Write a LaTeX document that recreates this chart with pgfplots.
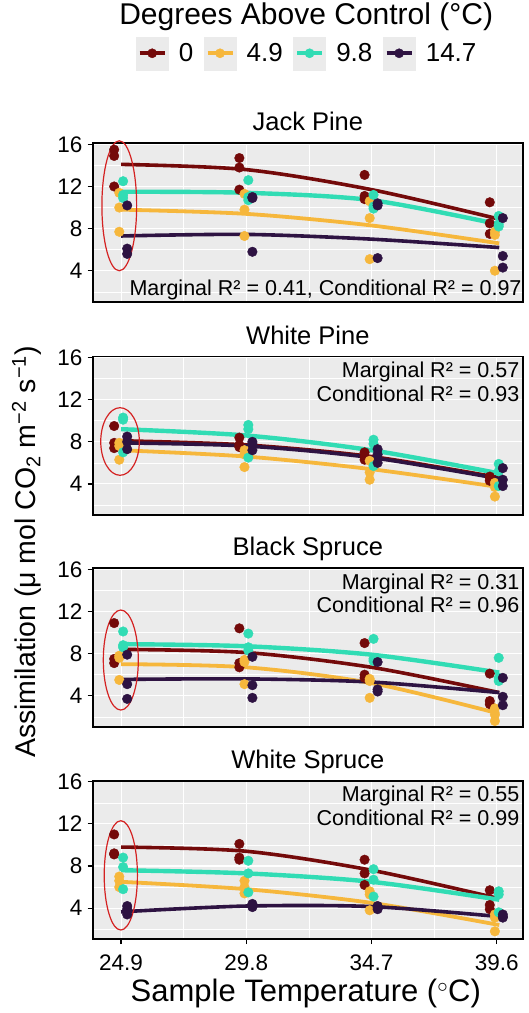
\documentclass[border=0pt]{standalone}
\usepackage{pgfplots}
\pgfplotsset{compat=1.18}
\usepackage{fontspec}
\setmainfont{Liberation Sans}
\definecolor{cr}{HTML}{740A0A}
\definecolor{cy}{HTML}{F6B73C}
\definecolor{ct}{HTML}{31DCB4}
\definecolor{cp}{HTML}{2E1342}
\definecolor{bg}{HTML}{EBEBEB}
\definecolor{ell}{HTML}{D42222}
\pgfplotsset{
  panel/.style={
    at={(92.7pt,#1)}, anchor=north west, scale only axis,
    width=430.3pt, height=158.5pt,
    xmin=23.79, xmax=40.63, ymin=1.05, ymax=16.1,
    xtick={24.9,29.8,34.7,39.6}, minor xtick={27.35,32.25,37.15},
    ytick={4,8,12,16}, yticklabels={4,8,12,16}, minor ytick={2,6,10,14},
    grid=both,
    major grid style={white, line width=1.1pt},
    minor grid style={white, line width=0.55pt},
    axis background/.style={fill=bg},
    axis line style={black, line width=1.8pt},
    tick align=outside, major tick length=5pt, minor tick length=0pt,
    xtick pos=bottom, ytick pos=left,
    tick style={black, line width=1.2pt},
    yticklabel style={font=\fontsize{22.5}{26}\selectfont, black, inner sep=0pt, xshift=-5pt},
    xticklabel style={font=\fontsize{22.5}{26}\selectfont, black, inner sep=0pt, yshift=-10.5pt},
    /pgf/number format/assume math mode=true,
    clip=false,
  },
  notx/.style={xticklabels={}, xtick style={draw=none}},
  pr/.style={only marks, mark=*, mark size=4.8pt, cr, mark options={draw=none, fill=cr}},
  py/.style={only marks, mark=*, mark size=4.8pt, cy, mark options={draw=none, fill=cy}},
  pt/.style={only marks, mark=*, mark size=4.8pt, ct, mark options={draw=none, fill=ct}},
  pp/.style={only marks, mark=*, mark size=4.8pt, cp, mark options={draw=none, fill=cp}},
  lr/.style={cr, line width=3.6pt, smooth, no marks},
  ly/.style={cy, line width=3.8pt, smooth, no marks},
  lt/.style={ct, line width=4.4pt, smooth, no marks},
  lp/.style={cp, line width=3.6pt, smooth, no marks},
}
\begin{document}
\begin{tikzpicture}
\useasboundingbox (0pt,0pt) rectangle (528pt,-1013pt);
% ---------- Jack Pine ----------
\begin{axis}[panel={-143.3pt}, notx,
  legend columns=4,
  legend style={at={(0.1006,1.568)}, anchor=west, draw=none, fill=none,
    inner sep=0pt, outer sep=0pt, font=\fontsize{26}{30}\selectfont,
    nodes={inner sep=0pt, anchor=center},
    /tikz/every odd column/.append style={column sep=10.5pt},
    /tikz/every even column/.append style={column sep=10.5pt}},
  legend image code/.code={
    \fill[bg] (0pt,-16.5pt) rectangle (32pt,16.5pt);
    \draw[line width=3.6pt] (3.5pt,0pt) -- (28.5pt,0pt);
    \fill (16pt,0pt) circle (4.6pt);
  }]
\addlegendimage{color=cr}\addlegendentry{0}
\addlegendimage{color=cy}\addlegendentry{4.9}
\addlegendimage{color=ct}\addlegendentry{9.8}
\addlegendimage{color=cp}\addlegendentry{14.7}
\addplot[lr] coordinates {(24.9,14.1) (29.8,13.6) (34.7,11.7) (39.7,8.9)};
\addplot[ly] coordinates {(24.9,9.8) (29.8,9.4) (34.7,8.3) (39.7,6.6)};
\addplot[lt] coordinates {(24.9,11.5) (29.8,11.4) (34.7,10.7) (39.7,8.4)};
\addplot[lp] coordinates {(24.9,7.3) (29.8,7.45) (34.7,7.0) (39.7,6.2)};
\addplot[pr] coordinates {(24.63,15.5) (24.63,14.9) (24.63,12.0) (29.53,14.7) (29.53,13.8) (29.53,11.7) (34.43,13.1) (34.43,11.1) (34.43,10.8) (39.33,10.5) (39.33,8.5) (39.33,7.5)};
\addplot[py] coordinates {(24.83,11.4) (24.83,10.0) (24.83,7.7) (29.73,11.3) (29.73,9.8) (29.73,7.3) (34.63,10.6) (34.63,9.0) (34.63,5.1) (39.53,7.7) (39.53,7.4) (39.53,4.0)};
\addplot[pt] coordinates {(24.98,12.5) (24.98,11.2) (24.98,10.9) (29.88,12.6) (29.88,11.0) (29.88,10.7) (34.78,11.2) (34.78,10.1) (34.78,9.9) (39.68,9.2) (39.68,8.4) (39.68,8.2)};
\addplot[pp] coordinates {(25.14,10.2) (25.14,6.1) (25.14,5.6) (30.04,11.0) (30.04,10.9) (30.04,5.8) (34.94,10.4) (34.94,10.2) (34.94,5.2) (39.84,9.0) (39.84,5.4) (39.84,4.3)};
\draw[ell, line width=1.2pt] (axis cs:24.83,10.17) ellipse [x radius=0.68, y radius=6.17];
\end{axis}
% ---------- White Pine ----------
\begin{axis}[panel={-356.5pt}, notx]
\addplot[lr] coordinates {(24.9,8.1) (29.8,7.7) (34.7,6.6) (39.7,4.6)};
\addplot[ly] coordinates {(24.9,7.2) (29.8,6.6) (34.7,5.4) (39.7,3.7)};
\addplot[lt] coordinates {(24.9,9.2) (29.8,8.6) (34.7,7.2) (39.7,5.0)};
\addplot[lp] coordinates {(24.9,7.9) (29.8,7.6) (34.7,6.5) (39.7,4.5)};
\addplot[pr] coordinates {(24.63,9.5) (24.63,7.9) (24.63,7.4) (29.53,8.4) (29.53,7.7) (29.53,7.5) (34.43,7.0) (34.43,6.6) (34.43,6.3) (39.33,4.7) (39.33,4.6) (39.33,4.3)};
\addplot[py] coordinates {(24.83,7.9) (24.83,7.6) (24.83,6.3) (29.73,7.2) (29.73,6.8) (29.73,5.6) (34.63,6.2) (34.63,5.1) (34.63,4.4) (39.53,4.1) (39.53,3.7) (39.53,2.8)};
\addplot[pt] coordinates {(24.98,10.3) (24.98,10.1) (24.98,7.0) (29.88,9.6) (29.88,9.2) (29.88,6.5) (34.78,8.2) (34.78,7.8) (34.78,5.7) (39.68,5.9) (39.68,5.2) (39.68,3.8)};
\addplot[pp] coordinates {(25.14,8.5) (25.14,8.0) (25.14,7.3) (30.04,8.0) (30.04,7.8) (30.04,7.2) (34.94,7.3) (34.94,6.8) (34.94,6.0) (39.84,5.5) (39.84,4.4) (39.84,3.8)};
\draw[ell, line width=1.2pt] (axis cs:24.86,8.03) ellipse [x radius=0.755, y radius=3.21];
\end{axis}
% ---------- Black Spruce ----------
\begin{axis}[panel={-568.3pt}, notx]
\addplot[lr] coordinates {(24.9,8.4) (29.8,8.1) (34.7,6.7) (39.7,4.3)};
\addplot[ly] coordinates {(24.9,7.0) (29.8,6.7) (34.7,5.2) (39.7,2.3)};
\addplot[lt] coordinates {(24.9,8.9) (29.8,8.7) (34.7,7.9) (39.7,6.2)};
\addplot[lp] coordinates {(24.9,5.55) (29.8,5.6) (34.7,5.3) (39.7,4.3)};
\addplot[pr] coordinates {(24.63,10.9) (24.63,7.5) (24.63,7.1) (29.53,10.4) (29.53,7.1) (29.53,6.7) (34.43,9.0) (34.43,6.0) (34.43,5.7) (39.33,6.1) (39.33,3.5) (39.33,3.2)};
\addplot[py] coordinates {(24.83,7.8) (24.83,7.6) (24.83,5.5) (29.73,7.4) (29.73,7.2) (29.73,5.1) (34.63,5.6) (34.63,5.4) (34.63,3.8) (39.53,2.8) (39.53,2.2) (39.53,1.6)};
\addplot[pt] coordinates {(24.98,10.1) (24.98,8.8) (24.98,8.6) (29.88,9.9) (29.88,8.6) (29.88,8.3) (34.78,9.4) (34.78,7.5) (34.78,7.3) (39.68,7.6) (39.68,5.7) (39.68,5.4)};
\addplot[pp] coordinates {(25.14,7.9) (25.14,5.1) (25.14,3.7) (30.04,7.7) (30.04,5.0) (30.04,3.8) (34.94,7.2) (34.94,4.6) (34.94,4.4) (39.84,5.7) (39.84,3.9) (39.84,3.1)};
\draw[ell, line width=1.2pt] (axis cs:24.89,7.39) ellipse [x radius=0.685, y radius=4.75];
\end{axis}
% ---------- White Spruce ----------
\begin{axis}[panel={-780.7pt}, xticklabels={24.9,29.8,34.7,39.6}]
\addplot[lr] coordinates {(24.9,9.8) (29.8,9.4) (34.7,7.6) (39.7,4.9)};
\addplot[ly] coordinates {(24.9,6.5) (29.8,5.8) (34.7,4.5) (39.7,2.4)};
\addplot[lt] coordinates {(24.9,7.6) (29.8,7.3) (34.7,6.5) (39.7,4.8)};
\addplot[lp] coordinates {(24.9,3.65) (29.8,4.2) (34.7,4.15) (39.7,3.2)};
\addplot[pr] coordinates {(24.63,11.0) (24.63,9.2) (24.63,9.1) (29.53,10.1) (29.53,8.8) (29.53,8.6) (34.43,8.6) (34.43,7.3) (34.43,6.2) (39.33,5.7) (39.33,4.3) (39.33,3.9)};
\addplot[py] coordinates {(24.83,7.0) (24.83,6.6) (24.83,6.0) (29.73,6.6) (29.73,6.0) (29.73,5.4) (34.63,5.6) (34.63,5.3) (34.63,3.8) (39.53,3.4) (39.53,3.1) (39.53,1.8)};
\addplot[pt] coordinates {(24.98,8.8) (24.98,7.9) (24.98,5.8) (29.88,8.5) (29.88,7.3) (29.88,5.5) (34.78,7.7) (34.78,6.7) (34.78,5.1) (39.68,5.6) (39.68,5.3) (39.68,3.6)};
\addplot[pp] coordinates {(25.14,4.2) (25.14,3.9) (25.14,3.4) (30.04,4.4) (30.04,4.2) (30.04,4.1) (34.94,4.2) (34.94,4.1) (34.94,3.9) (39.84,3.4) (39.84,3.2) (39.84,3.1)};
\draw[ell, line width=1.2pt] (axis cs:24.89,7.11) ellipse [x radius=0.65, y radius=5.19];
\end{axis}
% ---------- texts ----------
\node[anchor=base, font=\fontsize{30}{34}\selectfont] at (306.2pt,-24pt) {Degrees Above Control (°C)};
\begin{scope}[every node/.style={font=\fontsize{25.5}{30}\selectfont, anchor=base}]
\node at (307.85pt,-130.9pt) {Jack Pine};
\node at (307.85pt,-344.1pt) {White Pine};
\node at (307.85pt,-555.9pt) {Black Spruce};
\node at (307.85pt,-768.3pt) {White Spruce};
\end{scope}
\begin{scope}[every node/.style={font=\fontsize{21.5}{25}\selectfont, anchor=base east, inner sep=0pt}]
\node at (521.7pt,-295pt) {Marginal R² = 0.41, Conditional R² = 0.97};
\node at (519.5pt,-377.5pt) {Marginal R² = 0.57};
\node at (519.5pt,-401pt) {Conditional R² = 0.93};
\node at (519.5pt,-589.3pt) {Marginal R² = 0.31};
\node at (519.5pt,-612.8pt) {Conditional R² = 0.96};
\node at (519.5pt,-801.7pt) {Marginal R² = 0.55};
\node at (519.5pt,-825.2pt) {Conditional R² = 0.99};
\end{scope}
\node[anchor=base, font=\fontsize{31}{35}\selectfont] at (305.8pt,-1001.7pt) {Sample Temperature ($^\circ$C)};
\node[rotate=90, anchor=base, font=\fontsize{28.5}{32}\selectfont] at (35pt,-552pt) {Assimilation (μ mol CO\textsubscript{2} m\textsuperscript{−2} s\textsuperscript{−1})};
\end{tikzpicture}
\end{document}
